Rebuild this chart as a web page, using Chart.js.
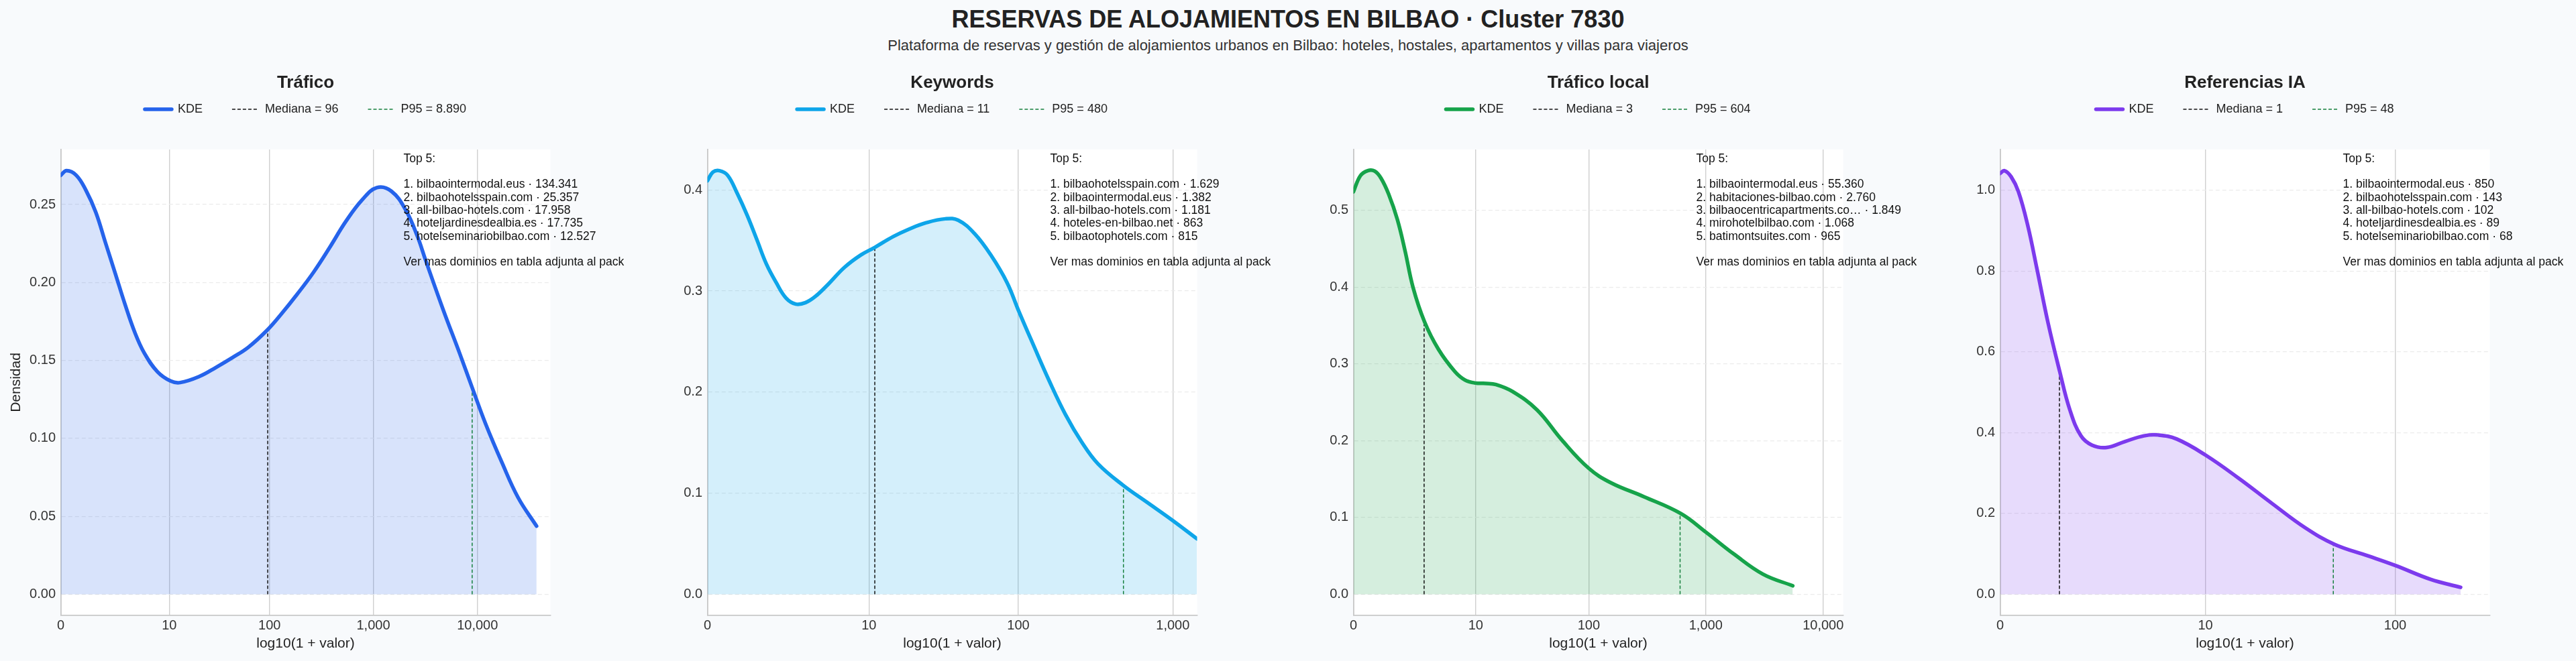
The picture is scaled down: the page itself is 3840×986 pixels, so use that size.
<!DOCTYPE html>
<html lang="es">
<head>
<meta charset="utf-8">
<title>Reservas de alojamientos en Bilbao · Cluster 7830</title>
<script src="https://cdn.jsdelivr.net/npm/chart.js@4.4.1/dist/chart.umd.min.js"></script>
<style>
  html, body { margin: 0; padding: 0; background: #f8fafc; }
  body { width: 3840px; height: 986px; position: relative; overflow: hidden;
         font-family: "Liberation Sans", Arial, Helvetica, sans-serif; }
  #title { position: absolute; left: 0; top: 11px; width: 3840px; line-height: 36px;
           text-align: center; font-size: 36px; font-weight: bold; color: #222; }
  #subtitle { position: absolute; left: 0; top: 55px; width: 3840px; line-height: 26px;
              text-align: center; font-size: 22px; color: #333; }
  .panel { position: absolute; top: 0; width: 964px; height: 986px; }
</style>
</head>
<body>
<div id="title">RESERVAS DE ALOJAMIENTOS EN BILBAO · Cluster 7830</div>
<div id="subtitle">Plataforma de reservas y gestión de alojamientos urbanos en Bilbao: hoteles, hostales, apartamentos y villas para viajeros</div>
<div class="panel" style="left:0px"><canvas id="c0"></canvas></div>
<div class="panel" style="left:963.5px"><canvas id="c1"></canvas></div>
<div class="panel" style="left:1927px"><canvas id="c2"></canvas></div>
<div class="panel" style="left:2890.5px"><canvas id="c3"></canvas></div>
<script>
// --- data ---
const panelTitles = ['Tráfico', 'Keywords', 'Tráfico local', 'Referencias IA'];
const colors = ['#2563eb', '#0ea5e9', '#16a34a', '#7c3aed'];
const fills = ['rgba(37,99,235,0.18)', 'rgba(14,165,233,0.18)', 'rgba(22,163,74,0.18)', 'rgba(124,58,237,0.18)'];

const medians = [96, 11, 3, 1];
const p95s = [8890, 480, 604, 48];
const medianDensity = [0.1695, 0.343, 0.356, 0.552];
const p95Density = [0.133, 0.108, 0.105, 0.123];

const xTickValues = [[0, 10, 100, 1000, 10000], [0, 10, 100, 1000], [0, 10, 100, 1000, 10000], [0, 10, 100]];
const xMaxLog = [4.70, 3.157, 4.17, 2.484];
const yTicks = [[0, 0.05, 0.10, 0.15, 0.20, 0.25], [0, 0.1, 0.2, 0.3, 0.4], [0, 0.1, 0.2, 0.3, 0.4, 0.5], [0, 0.2, 0.4, 0.6, 0.8, 1.0]];
const yDecimals = [2, 1, 1, 1];

// KDE curves on the log10(1 + valor) grid
const kdeTraficoX = [0, 0.056, 0.15, 0.243, 0.337, 0.43, 0.524, 0.617, 0.711, 0.804, 0.929, 1.054, 1.147, 1.334, 1.49, 1.646, 1.802, 1.983, 2.114, 2.27, 2.426, 2.581, 2.737, 2.893, 3.034, 3.174, 3.314, 3.423, 3.501, 3.673, 3.829, 3.947, 4.078, 4.234, 4.39, 4.567];
const kdeTraficoY = [0.2687, 0.2717, 0.2687, 0.259, 0.245, 0.2254, 0.2057, 0.186, 0.168, 0.1545, 0.1427, 0.1368, 0.1358, 0.1398, 0.1455, 0.1517, 0.1585, 0.1695, 0.1795, 0.1925, 0.2065, 0.2224, 0.2392, 0.253, 0.2608, 0.2585, 0.2461, 0.2297, 0.2145, 0.1821, 0.1545, 0.1329, 0.1093, 0.0846, 0.062, 0.0437];

const kdeKeywordsX = [0, 0.036, 0.078, 0.13, 0.193, 0.256, 0.319, 0.381, 0.444, 0.507, 0.57, 0.633, 0.696, 0.779, 0.884, 0.989, 1.079, 1.198, 1.303, 1.408, 1.534, 1.617, 1.722, 1.827, 1.932, 2.005, 2.099, 2.204, 2.309, 2.414, 2.518, 2.68, 2.833, 3.0, 3.157];
const kdeKeywordsY = [0.409, 0.4176, 0.419, 0.4145, 0.3963, 0.375, 0.3507, 0.3264, 0.3082, 0.293, 0.287, 0.2885, 0.2946, 0.3067, 0.3234, 0.3356, 0.3431, 0.3538, 0.3614, 0.3674, 0.3714, 0.37, 0.3568, 0.3356, 0.3082, 0.2809, 0.2475, 0.211, 0.1776, 0.1503, 0.129, 0.1078, 0.0911, 0.0729, 0.0547];

const kdeLocalX = [0, 0.06, 0.122, 0.18, 0.234, 0.3, 0.374, 0.44, 0.507, 0.605, 0.724, 0.864, 0.95, 1.04, 1.13, 1.214, 1.354, 1.564, 1.774, 2.004, 2.194, 2.474, 2.789, 3.0, 3.243, 3.489, 3.741];
const kdeLocalY = [0.524, 0.545, 0.5515, 0.551, 0.542, 0.521, 0.488, 0.447, 0.40, 0.355, 0.319, 0.29, 0.279, 0.275, 0.2745, 0.273, 0.264, 0.240, 0.201, 0.164, 0.145, 0.127, 0.105, 0.081, 0.052, 0.026, 0.011];

const kdeIaX = [0, 0.022, 0.056, 0.093, 0.14, 0.187, 0.243, 0.302, 0.354, 0.41, 0.466, 0.541, 0.634, 0.73, 0.802, 0.896, 1.043, 1.213, 1.381, 1.549, 1.698, 1.866, 2.006, 2.183, 2.336];
const kdeIaY = [1.041, 1.048, 1.033, 0.996, 0.913, 0.805, 0.672, 0.552, 0.456, 0.392, 0.369, 0.363, 0.378, 0.392, 0.394, 0.384, 0.344, 0.286, 0.224, 0.164, 0.123, 0.095, 0.071, 0.037, 0.017];

const kdeX = [kdeTraficoX, kdeKeywordsX, kdeLocalX, kdeIaX];
const kdeY = [kdeTraficoY, kdeKeywordsY, kdeLocalY, kdeIaY];

const top5Names = [
  ['bilbaointermodal.eus', 'bilbaohotelsspain.com', 'all-bilbao-hotels.com', 'hoteljardinesdealbia.es', 'hotelseminariobilbao.com'],
  ['bilbaohotelsspain.com', 'bilbaointermodal.eus', 'all-bilbao-hotels.com', 'hoteles-en-bilbao.net', 'bilbaotophotels.com'],
  ['bilbaointermodal.eus', 'habitaciones-bilbao.com', 'bilbaocentricapartments.co…', 'mirohotelbilbao.com', 'batimontsuites.com'],
  ['bilbaointermodal.eus', 'bilbaohotelsspain.com', 'all-bilbao-hotels.com', 'hoteljardinesdealbia.es', 'hotelseminariobilbao.com']
];
const top5Values = [
  [134341, 25357, 17958, 17735, 12527],
  [1629, 1382, 1181, 863, 815],
  [55360, 2760, 1849, 1068, 965],
  [850, 143, 102, 89, 68]
];

// --- helpers ---
const log1p10 = v => Math.log10(1 + v);
const esNum = v => String(v).replace(/\B(?=(\d{3})+(?!\d))/g, '.');
const enNum = v => String(v).replace(/\B(?=(\d{3})+(?!\d))/g, ',');

Chart.defaults.font.family = '"Liberation Sans", Arial, Helvetica, sans-serif';
Chart.defaults.color = '#333';

const plotBg = {
  id: 'plotBg',
  beforeDraw(chart) {
    const {ctx, chartArea: a} = chart;
    ctx.save();
    ctx.fillStyle = '#ffffff';
    ctx.fillRect(a.left, a.top, a.right - a.left, a.bottom - a.top);
    ctx.restore();
  }
};

// extra room between the legend row and the plot area
const legendGap = {
  id: 'legendGap',
  beforeInit(chart) {
    const fit = chart.legend.fit;
    chart.legend.fit = function () { fit.call(this); this.height += 41; };
  }
};

const top5Box = {
  id: 'top5',
  afterDraw(chart, args, opts) {
    const {ctx, chartArea: a} = chart;
    ctx.save();
    ctx.font = '17.5px "Liberation Sans", Arial, sans-serif';
    ctx.fillStyle = '#111';
    ctx.textBaseline = 'middle';
    ctx.textAlign = 'left';
    const x = a.left + 0.70 * (a.right - a.left);
    opts.lines.forEach((t, k) => ctx.fillText(t, x, a.top + 14 + k * 19.3));
    ctx.restore();
  }
};

for (let i = 0; i < 4; i++) {
  const mx = log1p10(medians[i]);
  const px = log1p10(p95s[i]);
  const yMaxData = Math.max(...kdeY[i]);
  const legendTexts = ['KDE', 'Mediana = ' + esNum(medians[i]), 'P95 = ' + esNum(p95s[i])];
  const lines = ['Top 5:', ''];
  top5Names[i].forEach((n, k) => lines.push((k + 1) + '. ' + n + ' · ' + esNum(top5Values[i][k])));
  lines.push('', 'Ver mas dominios en tabla adjunta al pack');

  new Chart(document.getElementById('c' + i), {
    type: 'line',
    data: {
      datasets: [
        {
          label: 'KDE',
          data: kdeX[i].map((x, k) => ({x: x, y: kdeY[i][k]})),
          borderColor: colors[i],
          backgroundColor: fills[i],
          borderWidth: 5.5,
          borderCapStyle: 'round',
          borderJoinStyle: 'round',
          tension: 0.4,
          pointRadius: 0,
          fill: 'origin'
        },
        {
          label: 'Mediana',
          data: [{x: mx, y: 0}, {x: mx, y: medianDensity[i]}],
          borderColor: '#111111',
          borderWidth: 1.5,
          borderDash: [5, 3],
          pointRadius: 0,
          fill: false
        },
        {
          label: 'P95',
          data: [{x: px, y: 0}, {x: px, y: p95Density[i]}],
          borderColor: '#15803d',
          borderWidth: 1.5,
          borderDash: [5, 3],
          pointRadius: 0,
          fill: false
        }
      ]
    },
    options: {
      responsive: true,
      maintainAspectRatio: false,
      animation: false,
      events: [],
      layout: {padding: {left: 0, right: 143.5, top: 0, bottom: 0}},
      scales: {
        x: {
          type: 'linear',
          min: 0,
          max: xMaxLog[i],
          afterBuildTicks: s => { s.ticks = xTickValues[i].map(t => ({value: log1p10(t)})); },
          afterFit: s => { s.height = 68; },
          ticks: {
            padding: 3,
            font: {size: 20},
            color: '#333',
            callback: (v, idx) => enNum(xTickValues[i][idx])
          },
          grid: {color: '#cfcfcf', lineWidth: 1.4, drawTicks: false},
          border: {display: true, color: '#c8c8c8', width: 1.8},
          title: {display: true, text: 'log10(1 + valor)', font: {size: 21}, color: '#222', padding: {top: 0, bottom: 13.4}}
        },
        y: {
          min: -0.05 * yMaxData,
          max: 1.05 * yMaxData,
          afterBuildTicks: s => { s.ticks = yTicks[i].map(v => ({value: v})); },
          afterFit: s => { s.width = 90.5; },
          ticks: {
            padding: 7.5,
            font: {size: 20},
            color: '#333',
            callback: v => v.toFixed(yDecimals[i])
          },
          grid: {color: '#ebebeb', lineWidth: 1.2, drawTicks: false},
          border: {display: true, color: '#c8c8c8', width: 1.8, dash: [6, 4]},
          title: {display: i === 0, text: 'Densidad', font: {size: 21}, color: '#222', padding: {top: 12, bottom: 0}}
        }
      },
      plugins: {
        filler: {drawTime: 'beforeDatasetsDraw'},
        tooltip: {enabled: false},
        title: {
          display: true,
          text: panelTitles[i],
          fullSize: false,
          color: '#222',
          font: {size: 26, weight: 'bold'},
          padding: {top: 108.4, bottom: -29.6}
        },
        legend: {
          display: true,
          position: 'top',
          fullSize: false,
          labels: {
            usePointStyle: true,
            pointStyleWidth: 40,
            padding: 44,
            color: '#222',
            font: {size: 18},
            generateLabels: chart => chart.data.datasets.map((ds, k) => ({
              text: legendTexts[k],
              strokeStyle: ds.borderColor,
              fillStyle: ds.borderColor,
              lineWidth: ds.borderWidth,
              lineDash: ds.borderDash || [],
              lineCap: k === 0 ? 'round' : 'butt',
              pointStyle: 'line',
              fontColor: '#222',
              hidden: false,
              datasetIndex: k
            }))
          }
        },
        top5: {lines: lines}
      }
    },
    plugins: [plotBg, legendGap, top5Box]
  });
}
</script>
</body>
</html>
